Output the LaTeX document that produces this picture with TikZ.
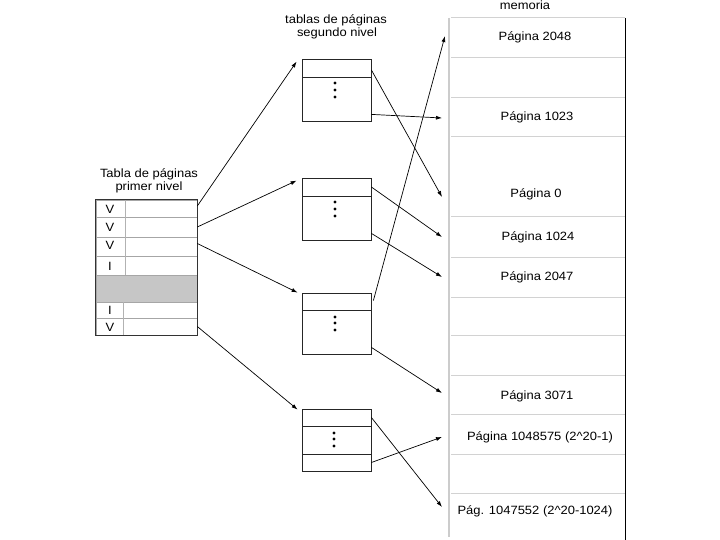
\documentclass[tikz,border=0pt]{standalone}
\usepackage{fontspec}
\setmainfont{Liberation Sans}[FakeStretch=1.08]
\usetikzlibrary{arrows.meta,calc}
\begin{document}
\begin{tikzpicture}[x=1pt,y=-1pt,font=\fontsize{12}{13.5}\selectfont,
  arr/.style={draw=black,line width=0.7pt,-{Latex[length=6pt,width=4pt]}},
  lbl/.style={inner sep=0pt,anchor=center},
  memline/.style={draw=gray!35,line width=1pt},
  frow/.style={draw=gray!70,line width=0.6pt,minimum width=101pt,inner sep=0pt},
  srow/.style={draw=black!85,line width=0.8pt,minimum width=69pt,inner sep=0pt},
  dotmark/.style={fill=black}
]
\useasboundingbox (0,0) rectangle (720,540);
\fill[white] (0,0) rectangle (720,540);

% ---------- memory ----------
\coordinate (ml) at (449,0);
\foreach \yy in {18,58,98,137,217,257,297,335,375,414,454,493}
  \draw[memline] (451,\yy) -- (625,\yy);
\draw[draw=gray!40,line width=1.2pt] (449,18) -- (449,537);
\draw[draw=black,line width=0.9pt] (625,18) -- (625,540);
\node[lbl] (mem) at (525,5) {memoria};
\node[lbl] (p2048) at (535,37) {Página 2048};
\node[lbl] (p1023) at (537,117) {Página 1023};
\node[lbl] (p0) at (536,194) {Página 0};
\node[lbl] (p1024) at (538,237) {Página 1024};
\node[lbl] (p2047) at (537,277) {Página 2047};
\node[lbl] (p3071) at (537,396) {Página 3071};
\node[lbl] (pA) at (540,437) {Página 1048575 (2\textasciicircum20-1)};
\node[lbl] (pB) at (535,511) {Pág. 1047552 (2\textasciicircum20-1024)};

% ---------- first level table ----------
\node[lbl] (t1l1) at (149,174) {Tabla de páginas};
\node[lbl] (t1l2) at (149,187) {primer nivel};
\node[frow,minimum height=17pt] (f1) at (146.5,208.5) {};
\node[frow,minimum height=20pt] (f2) at (146.5,227) {};
\node[frow,minimum height=19pt] (f3) at (146.5,246.5) {};
\node[frow,minimum height=19pt] (f4) at (146.5,265.5) {};
\node[frow,minimum height=27pt,fill=gray!45] (f5) at (146.5,288.5) {};
\node[frow,minimum height=16pt] (f6) at (146.5,310) {};
\node[frow,minimum height=17pt] (f7) at (146.5,326.5) {};
\draw[draw=gray!60,line width=0.6pt] (125,200) -- (125,275);
\draw[draw=gray!60,line width=0.6pt] (123,302) -- (123,335);
\draw[draw=black!80,line width=0.8pt] (f1.north west) rectangle (f7.south east);
\node[lbl] (v1) at (110,209) {V};
\node[lbl] (v2) at (110,227) {V};
\node[lbl] (v3) at (110,245) {V};
\node[lbl] (i4) at (110,266) {I};
\node[lbl] (i6) at (110,310) {I};
\node[lbl] (v7) at (110,327) {V};

% ---------- second level tables ----------
\node[lbl] (s1) at (336,20) {tablas de páginas};
\node[lbl] (s2) at (337,33) {segundo nivel};

\node[srow,minimum height=18pt] (t1a) at (336.5,68) {};
\node[srow,minimum height=44pt] (t1b) at (336.5,99) {};
\node[srow,minimum height=18pt] (t2a) at (336.5,187) {};
\node[srow,minimum height=44pt] (t2b) at (336.5,218) {};
\node[srow,minimum height=17pt] (t3a) at (336.5,301.5) {};
\node[srow,minimum height=44pt] (t3b) at (336.5,332) {};
\node[srow,minimum height=17pt] (t4a) at (336.5,417.5) {};
\node[srow,minimum height=28pt] (t4b) at (336.5,440) {};
\node[srow,minimum height=17pt] (t4c) at (336.5,462.5) {};

\foreach \yy in {83,90,97}   \fill[dotmark] (335,\yy) circle (1.7);
\foreach \yy in {202,209,216} \fill[dotmark] (335,\yy) circle (1.7);
\foreach \yy in {317,323,330} \fill[dotmark] (335,\yy) circle (1.7);
\foreach \yy in {433,439,446} \fill[dotmark] (334,\yy) circle (1.7);

% ---------- arrows first -> second ----------
\draw[arr] ($(f1.east)+(0,-2.5)$) -- ($(t1a.north west)+(-5,3)$);
\draw[arr] (f2.east) -- ($(t2a.north west)+(-5,3)$);
\draw[arr] ($(f3.east)+(0,-3)$) -- ($(t3a.north west)+(-4,0)$);
\draw[arr] (f7.east) -- ($(t4a.north west)+(-4,1)$);

% ---------- arrows second -> memory ----------
\draw[arr] ($(t1a.east)+(0,2)$) -- ($(p0.west -| ml)+(-7,3)$);
\draw[arr] ($(t1b.south east)+(0,-7)$) -- ($(p1023.west -| ml)+(-7,1)$);
\draw[arr] (t2a.east) -- ($(p1024.west -| ml)+(-7,0)$);
\draw[arr] ($(t2b.south east)+(0,-7)$) -- ($(p2047.west -| ml)+(-7,0)$);
\draw[arr] ($(t3a.east)+(2,-1)$) -- ($(p2048.west -| ml)+(-4,-1)$);
\draw[arr] ($(t3b.south east)+(0,-7)$) -- ($(p3071.west -| ml)+(-7,-3)$);
\draw[arr] (t4a.east) -- ($(pB.west -| ml)+(-7,-4)$);
\draw[arr] (t4c.east) -- ($(pA.west -| ml)+(-7,0)$);
\end{tikzpicture}
\end{document}
